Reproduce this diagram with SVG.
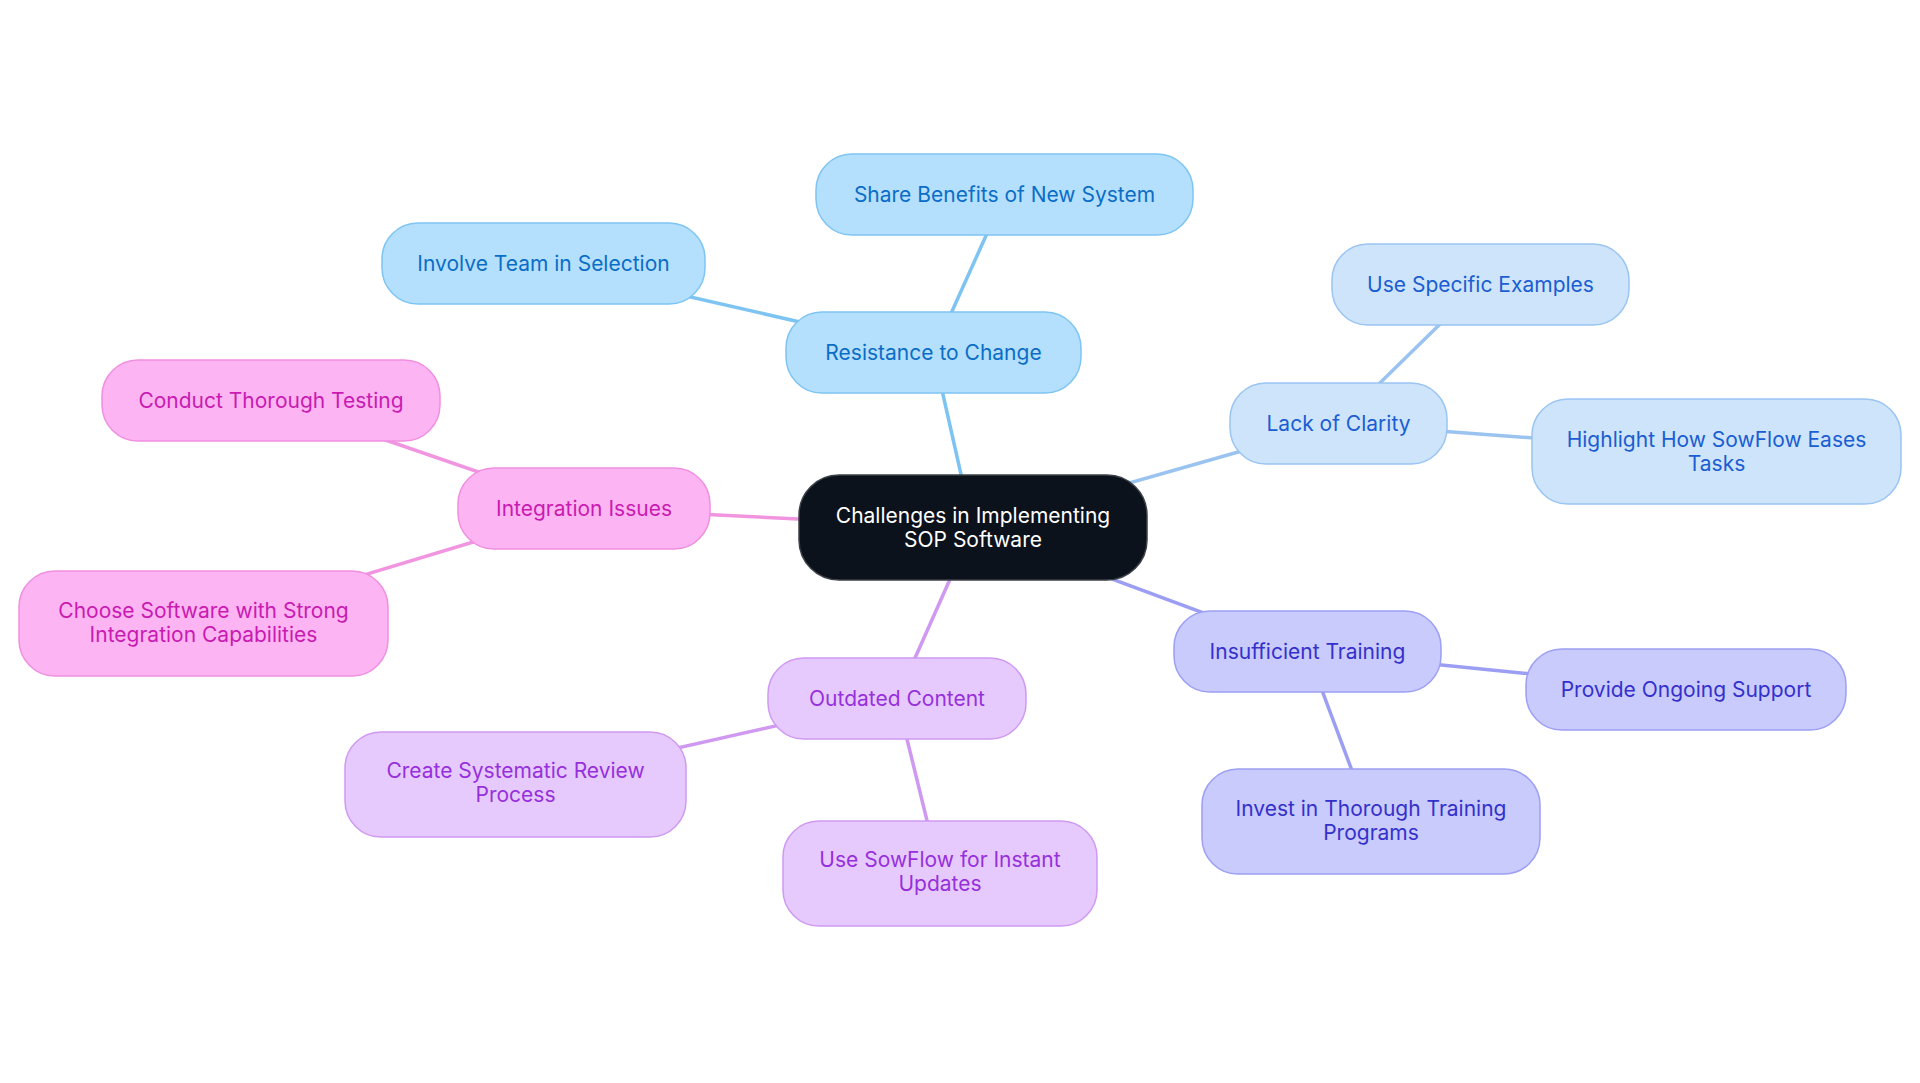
<svg xmlns="http://www.w3.org/2000/svg" width="1920" height="1083" viewBox="0 0 1920 1083">
<style>
  text { font-family: Inter, "Noto Sans", "Liberation Sans", sans-serif; font-size: 21px; text-anchor: middle; dominant-baseline: central; }
  .edge { fill: none; stroke-width: 3.5; stroke-linecap: round; }
  .e1 { stroke: #7dc4f3; }
  .e2 { stroke: #9ac3f0; }
  .e3 { stroke: #9b9ef3; }
  .e4 { stroke: #cf99f2; }
  .e5 { stroke: #f295e0; }
  .n0 rect { fill: #0c121b; stroke: #3d4148; stroke-width: 1.5; }
  .n0 text { fill: #ffffff; }
  .n1 rect { fill: #b4e0fe; stroke: #7ec4f2; stroke-width: 1.5; }
  .n1 text { fill: #0b6dc6; }
  .n2 rect { fill: #cde4fb; stroke: #9ac4f2; stroke-width: 1.5; }
  .n2 text { fill: #1b5dd2; }
  .n3 rect { fill: #c8cbfc; stroke: #9c9ff4; stroke-width: 1.5; }
  .n3 text { fill: #3530cc; }
  .n4 rect { fill: #e7cafd; stroke: #cf99f2; stroke-width: 1.5; }
  .n4 text { fill: #9630dc; }
  .n5 rect { fill: #fdb4f3; stroke: #ef8fe0; stroke-width: 1.5; }
  .n5 text { fill: #c81bb1; }
</style>
<rect x="0" y="0" width="1920" height="1083" fill="#ffffff"/>
<g id="connectors">
  <line class="edge e1" x1="973" y1="527.5" x2="933.5" y2="352.5"/>
  <line class="edge e1" x1="933.5" y1="352.5" x2="1004.5" y2="194.5"/>
  <line class="edge e1" x1="933.5" y1="352.5" x2="543.5" y2="263.5"/>
  <line class="edge e2" x1="973" y1="527.5" x2="1338.5" y2="423.5"/>
  <line class="edge e2" x1="1338.5" y1="423.5" x2="1480.5" y2="284.5"/>
  <line class="edge e2" x1="1338.5" y1="423.5" x2="1716.5" y2="451.5"/>
  <line class="edge e3" x1="973" y1="527.5" x2="1307.5" y2="651.5"/>
  <line class="edge e3" x1="1307.5" y1="651.5" x2="1686" y2="689.5"/>
  <line class="edge e3" x1="1307.5" y1="651.5" x2="1371" y2="821.5"/>
  <line class="edge e4" x1="973" y1="527.5" x2="897" y2="698.5"/>
  <line class="edge e4" x1="897" y1="698.5" x2="515.5" y2="784.5"/>
  <line class="edge e4" x1="897" y1="698.5" x2="940" y2="873.5"/>
  <line class="edge e5" x1="973" y1="527.5" x2="584" y2="508.5"/>
  <line class="edge e5" x1="584" y1="508.5" x2="271" y2="400.5"/>
  <line class="edge e5" x1="584" y1="508.5" x2="203.5" y2="623.5"/>
</g>
<g id="node-root" class="n0">
  <rect x="799" y="475" width="348" height="105" rx="40"/>
  <text x="973" y="515">Challenges in Implementing</text>
  <text x="973" y="539">SOP Software</text>
</g>
<g id="node-resistance" class="n1">
  <rect x="786" y="312" width="295" height="81" rx="36"/>
  <text x="933.5" y="352">Resistance to Change</text>
</g>
<g id="node-share" class="n1">
  <rect x="816" y="154" width="377" height="81" rx="36"/>
  <text x="1004.5" y="194">Share Benefits of New System</text>
</g>
<g id="node-involve" class="n1">
  <rect x="382" y="223" width="323" height="81" rx="36"/>
  <text x="543.5" y="263">Involve Team in Selection</text>
</g>
<g id="node-clarity" class="n2">
  <rect x="1230" y="383" width="217" height="81" rx="36"/>
  <text x="1338.5" y="423">Lack of Clarity</text>
</g>
<g id="node-examples" class="n2">
  <rect x="1332" y="244" width="297" height="81" rx="36"/>
  <text x="1480.5" y="284">Use Specific Examples</text>
</g>
<g id="node-highlight" class="n2">
  <rect x="1532" y="399" width="369" height="105" rx="36"/>
  <text x="1716.5" y="439">Highlight How SowFlow Eases</text>
  <text x="1716.5" y="463">Tasks</text>
</g>
<g id="node-training" class="n3">
  <rect x="1174" y="611" width="267" height="81" rx="36"/>
  <text x="1307.5" y="651">Insufficient Training</text>
</g>
<g id="node-support" class="n3">
  <rect x="1526" y="649" width="320" height="81" rx="36"/>
  <text x="1686" y="689">Provide Ongoing Support</text>
</g>
<g id="node-invest" class="n3">
  <rect x="1202" y="769" width="338" height="105" rx="36"/>
  <text x="1371" y="808.5">Invest in Thorough Training</text>
  <text x="1371" y="832.5">Programs</text>
</g>
<g id="node-outdated" class="n4">
  <rect x="768" y="658" width="258" height="81" rx="36"/>
  <text x="897" y="698">Outdated Content</text>
</g>
<g id="node-review" class="n4">
  <rect x="345" y="732" width="341" height="105" rx="36"/>
  <text x="515.5" y="770.5">Create Systematic Review</text>
  <text x="515.5" y="794.5">Process</text>
</g>
<g id="node-updates" class="n4">
  <rect x="783" y="821" width="314" height="105" rx="36"/>
  <text x="940" y="859.5">Use SowFlow for Instant</text>
  <text x="940" y="883.5">Updates</text>
</g>
<g id="node-integration" class="n5">
  <rect x="458" y="468" width="252" height="81" rx="36"/>
  <text x="584" y="508">Integration Issues</text>
</g>
<g id="node-testing" class="n5">
  <rect x="102" y="360" width="338" height="81" rx="36"/>
  <text x="271" y="400">Conduct Thorough Testing</text>
</g>
<g id="node-choose" class="n5">
  <rect x="19" y="571" width="369" height="105" rx="36"/>
  <text x="203.5" y="610.5">Choose Software with Strong</text>
  <text x="203.5" y="634.5">Integration Capabilities</text>
</g>
</svg>
